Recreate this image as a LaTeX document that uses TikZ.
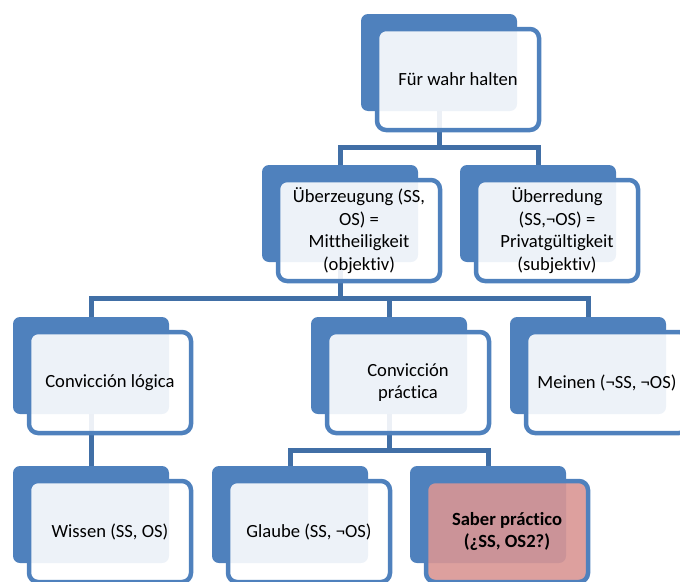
\documentclass[tikz,border=0pt]{standalone}
\usepackage{fontspec}
\setmainfont{Carlito}[Ligatures=NoCommon]
\usepackage{xcolor}
\usepackage{tikz}
\definecolor{smartblue}{HTML}{4F81BD}
\definecolor{linkblue}{HTML}{416FA6}
\definecolor{saberred}{HTML}{D99694}

\begin{document}
\begin{tikzpicture}[
    x=1pt, y=-1pt,
    % Back shapes
    backbox/.style={rectangle, rounded corners=7pt, fill=smartblue, minimum width=156pt, minimum height=97pt, inner sep=0pt, outer sep=0pt, anchor=north west},
    % Front shapes
    frontbox/.style={rectangle, rounded corners=9pt, draw=smartblue, line width=4.5pt, fill=white, fill opacity=0.9, text opacity=1, minimum width=162pt, minimum height=101pt, inner sep=0pt, outer sep=0pt, anchor=north west, align=center, font=\fontsize{18.6}{22.7}\selectfont},
    hilitebox/.style={frontbox, fill=saberred, font=\fontsize{18.6}{22.7}\selectfont\bfseries},
    % Connectors
    link/.style={draw=linkblue, line width=5pt}
]
    \useasboundingbox (0,0) rectangle (680,581);

    % Back shapes
    \node[backbox] (haltenback) at (361,14) {};
    \node[backbox] (uberzback) at (262,165) {};
    \node[backbox] (uberrback) at (460,165) {};
    \node[backbox] (logicaback) at (13,317) {};
    \node[backbox] (praktback) at (311,317) {};
    \node[backbox] (meinenback) at (510,317) {};
    \node[backbox] (wissenback) at (13,466) {};
    \node[backbox] (glaubeback) at (212,466) {};
    \node[backbox] (saberback) at (410,466) {};

    % Connectors
    \draw[link] (haltenback.south) -- +(0,36) -| (uberzback.north);
    \draw[link] (haltenback.south) -- +(0,36) -| (uberrback.north);
    \draw[link] (uberzback.south) -- +(0,36) -| (logicaback.north);
    \draw[link] (uberzback.south) -- +(0,36) -| (praktback.north);
    \draw[link] (uberzback.south) -- +(0,36) -| (meinenback.north);
    \draw[link] (logicaback.south) -- (wissenback.north);
    \draw[link] (praktback.south) -- +(0,36) -| (glaubeback.north);
    \draw[link] (praktback.south) -- +(0,36) -| (saberback.north);

    % Front shapes
    \node[frontbox] (halten) at ([shift={(16,15)}]haltenback.north west) {Für wahr halten};
    \node[frontbox] (uberz) at ([shift={(16,15)}]uberzback.north west) {Überzeugung (SS,\\OS) =\\Mittheiligkeit\\(objektiv)};
    \node[frontbox] (uberr) at ([shift={(16,15)}]uberrback.north west) {Überredung\\(SS,¬OS) =\\Privatgültigkeit\\(subjektiv)};
    \node[frontbox] (logica) at ([shift={(16,15)}]logicaback.north west) {Convicción lógica};
    \node[frontbox] (prakt) at ([shift={(16,15)}]praktback.north west) {Convicción\\práctica};
    \node[frontbox] (meinen) at ([shift={(16,15)}]meinenback.north west) {Meinen (¬SS, ¬OS)};
    \node[frontbox] (wissen) at ([shift={(16,15)}]wissenback.north west) {Wissen (SS, OS)};
    \node[frontbox] (glaube) at ([shift={(16,15)}]glaubeback.north west) {Glaube (SS, ¬OS)};
    \node[hilitebox] (saber) at ([shift={(16,15)}]saberback.north west) {Saber práctico\\(¿SS, OS2?)};
\end{tikzpicture}
\end{document}
